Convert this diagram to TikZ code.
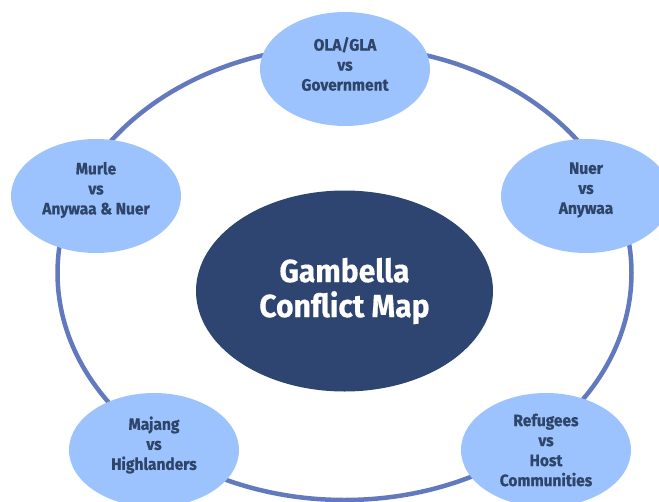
\documentclass[tikz,border=0pt]{standalone}
\usepackage{fontspec}
\setmainfont{Fira Sans}[UprightFont=* Bold, BoldFont=* Bold, FakeStretch=0.94, FakeBold=0.6]
\newfontfamily\hubfont{Fira Sans Bold}[FakeStretch=0.94, FakeBold=0.4]
\usetikzlibrary{shapes.geometric}
\definecolor{ringblue}{HTML}{6279BD}
\definecolor{petal}{HTML}{9DC3FE}
\definecolor{hub}{HTML}{2D4570}
\definecolor{petaltext}{HTML}{2E4468}
\tikzset{
  petalnode/.style={ellipse, fill=petal, draw=none, inner sep=0pt,
    minimum width=170pt, minimum height=114pt},
  petallabel/.style={align=center, inner sep=0pt, text=petaltext,
    font=\fontsize{16.5}{20}\selectfont},
  hubnode/.style={ellipse, fill=hub, draw=none, inner sep=0pt,
    minimum width=297pt, minimum height=201pt, align=center,
    text=white, font=\hubfont\fontsize{32}{35}\selectfont},
  ring/.style={draw=ringblue, line width=4.5pt}
}
\begin{document}
\begin{tikzpicture}[x=1pt, y=-1pt]
  \useasboundingbox (0,0) rectangle (659,501);
  \clip (0,0) rectangle (659,501);
  % outer ring joining the five conflicts
  \draw[ring] (344.5,273) ellipse [x radius=287, y radius=227];
  % central hub
  \node[hubnode] (hub) at (344.5,291) {Gambella\\Conflict Map};
  % conflict pairs around the ring
  \node[petalnode] (ola) at (345,69) {};
  \node[petalnode] (murle) at (96,196) {};
  \node[petalnode] (nuer) at (586,196) {};
  \node[petalnode] (majang) at (154,450) {};
  \node[petalnode] (refugees) at (546,450) {};
  \node[petallabel] (olat) at ([yshift=5pt]ola.center) {OLA/GLA\\vs\\Government};
  \node[petallabel] (murlet) at ([yshift=6pt]murle.center) {Murle\\vs\\Anywaa \& Nuer};
  \node[petallabel] (nuert) at ([yshift=6pt]nuer.center) {Nuer\\vs\\Anywaa};
  \node[petallabel] (majangt) at ([yshift=5pt]majang.center) {Majang\\vs\\Highlanders};
  \node[petallabel] (refugeest) at ([yshift=0pt]refugees.center) {Refugees\\vs\\Host\\Communities};
\end{tikzpicture}
\end{document}
